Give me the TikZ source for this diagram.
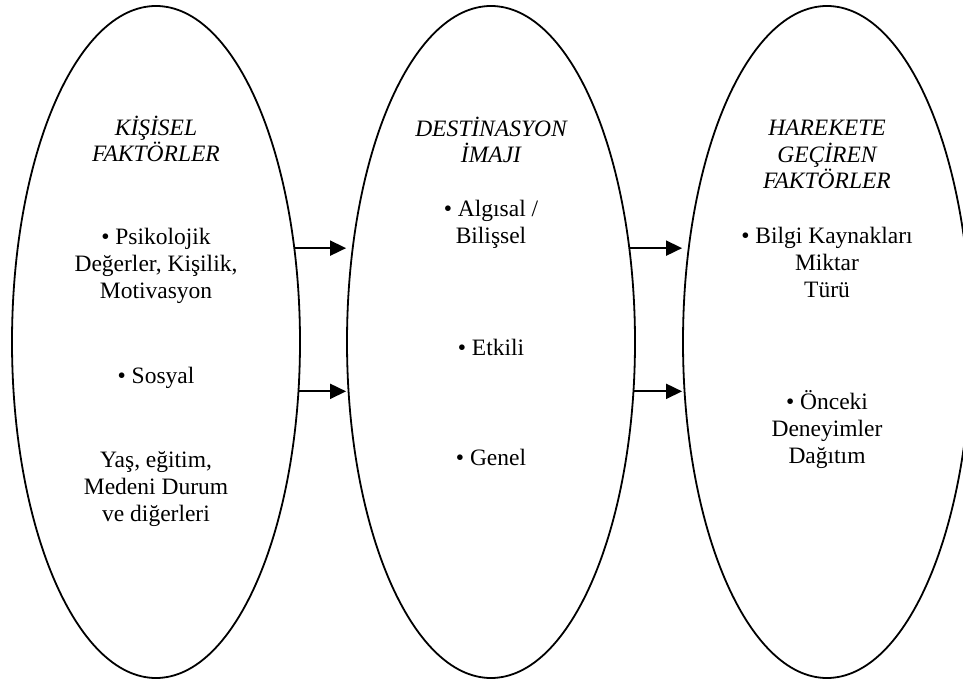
\documentclass[tikz,border=0pt]{standalone}
\usepackage{fontspec}
\setmainfont{Liberation Serif}
\usepackage{tikz}
\usetikzlibrary{shapes.geometric,arrows.meta}
\tikzset{halka/.style={
    draw, ellipse,
    line width=1.8pt,
    minimum width=288pt,
    minimum height=672pt}}
\tikzset{ok/.style={
    -{Triangle[length=16pt,width=15pt]},
    line width=1.8pt}}
\tikzset{baslik/.style={
    font=\fontsize{23.5pt}{26.5pt}\selectfont\itshape,
    align=center, anchor=base}}
\tikzset{madde/.style={
    font=\fontsize{23.5pt}{27pt}\selectfont,
    align=center, anchor=base}}

\begin{document}
\begin{tikzpicture}[x=1pt,y=-1pt]
\useasboundingbox (0,0) rectangle (963,684);

  % ellipses
  \node[halka] (kisisel) at (156,342) {};
  \node[halka] (destinasyon) at (491,342) {};
  \node[halka] (harekete) at (827,342) {};

  % flèches
  \draw[ok] (kisisel.34.5) -- (kisisel.34.5 -| destinasyon.west);
  \draw[ok] (kisisel.-19) -- (kisisel.-19 -| destinasyon.west);
  \draw[ok] (destinasyon.34.5) -- (destinasyon.34.5 -| harekete.west);
  \draw[ok] (destinasyon.-19) -- (destinasyon.-19 -| harekete.west);

  % textes (base = dernière ligne)
  \node[baslik] (kisbaslik) at (156,162) {KİŞİSEL\\FAKTÖRLER};
  \node[madde] (psikolojik) at (156,299) {• Psikolojik\\Değerler, Kişilik,\\Motivasyon};
  \node[madde] (sosyal) at (156,383) {• Sosyal};
  \node[madde] (yas) at (156,521) {Yaş, eğitim,\\Medeni Durum\\ve diğerleri};

  \node[baslik] (destbaslik) at (491,163) {DESTİNASYON\\İMAJI};
  \node[madde] (algisal) at (491,244) {• Algısal /\\Bilişsel};
  \node[madde] (etkili) at (491,355) {• Etkili};
  \node[madde] (genel) at (491,465) {• Genel};

  \node[baslik] (harbaslik) at (827,189) {HAREKETE\\GEÇİREN\\FAKTÖRLER};
  \node[madde] (bilgi) at (827,298) {• Bilgi Kaynakları\\Miktar\\Türü};
  \node[madde] (onceki) at (827,463) {• Önceki\\Deneyimler\\Dağıtım};
\end{tikzpicture}
\end{document}
